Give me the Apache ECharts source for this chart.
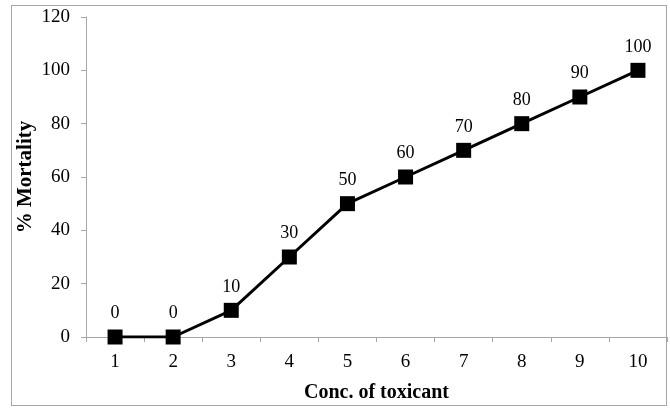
<!DOCTYPE html>
<html>
<head>
<meta charset="utf-8">
<script src="https://cdn.jsdelivr.net/npm/echarts@6/dist/echarts.min.js"></script>
<style>
  html, body { margin: 0; padding: 0; background: #fff; }
  #frame { position: absolute; left: 11px; top: 5px; width: 656px; height: 401px; border: 1px solid #a6a6a6; box-sizing: border-box; }
  #chart { width: 670px; height: 408px; position: absolute; left: 0; top: 0; }
</style>
</head>
<body>
<div id="frame"></div>
<div id="chart"></div>
<script>
// Toxicant concentration levels and observed mortality
const concentrations = ['1', '2', '3', '4', '5', '6', '7', '8', '9', '10'];
const mortality = [0, 0, 10, 30, 50, 60, 70, 80, 90, 100];

const serif = '"Liberation Serif", "Times New Roman", serif';
const chart = echarts.init(document.getElementById('chart'));

chart.setOption({
  backgroundColor: 'transparent',
  animation: false,
  grid: { left: 86, right: 3, top: 17, bottom: 70, containLabel: false },
  xAxis: {
    type: 'category',
    data: concentrations,
    boundaryGap: true,
    name: 'Conc. of toxicant',
    nameLocation: 'middle',
    nameGap: 46,
    nameMoveOverlap: false,
    nameTextStyle: { fontFamily: serif, fontSize: 20, fontWeight: 'bold', color: '#000' },
    axisLine: { lineStyle: { color: '#a6a6a6', width: 1 } },
    axisTick: { show: true, length: 5, lineStyle: { color: '#a6a6a6' } },
    axisLabel: { fontFamily: serif, fontSize: 19, color: '#000', margin: 16 },
    splitLine: { show: false }
  },
  yAxis: {
    type: 'value',
    min: 0,
    max: 120,
    interval: 20,
    name: '% Mortality',
    nameLocation: 'middle',
    nameGap: 50,
    nameMoveOverlap: false,
    nameTextStyle: { fontFamily: serif, fontSize: 21, fontWeight: 'bold', color: '#000' },
    axisLine: { show: true, lineStyle: { color: '#a6a6a6', width: 1 } },
    axisTick: { show: true, length: 5, lineStyle: { color: '#a6a6a6' } },
    axisLabel: { fontFamily: serif, fontSize: 19, color: '#000', margin: 16 },
    splitLine: { show: false }
  },
  series: [{
    type: 'line',
    data: mortality,
    symbol: 'rect',
    symbolSize: 15,
    lineStyle: { color: '#000', width: 3 },
    itemStyle: { color: '#000' },
    label: {
      show: true,
      position: 'top',
      distance: 7,
      fontFamily: serif,
      fontSize: 18,
      color: '#000'
    }
  }]
});
</script>
</body>
</html>
